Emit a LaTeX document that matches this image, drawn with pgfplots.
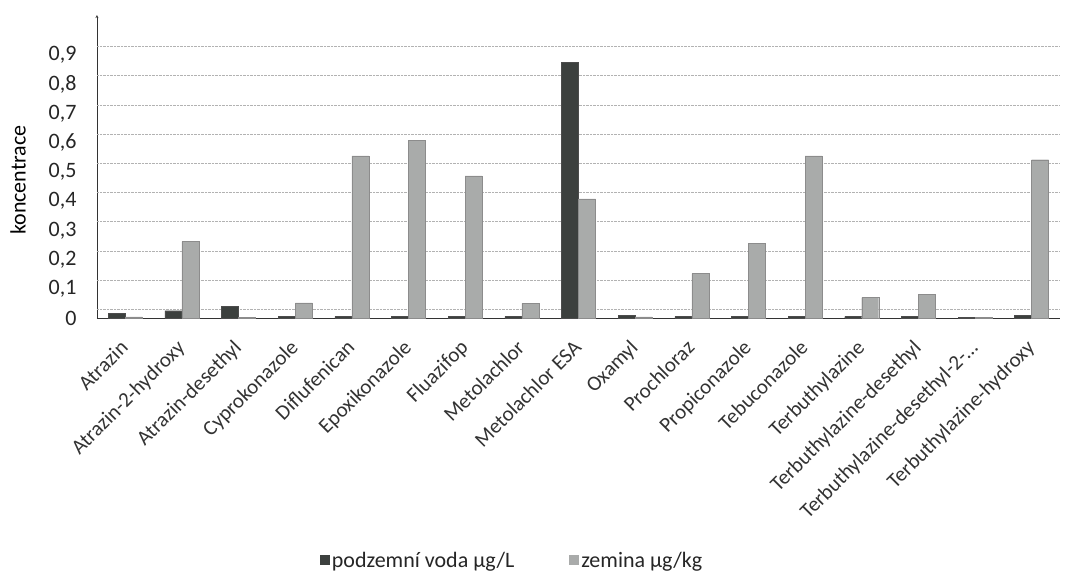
\documentclass[border=0pt]{standalone}
\usepackage{fontspec}
\setmainfont{Carlito}
\usepackage{pgfplots}
\pgfplotsset{compat=1.18}
\definecolor{voda}{HTML}{3C403E}
\definecolor{zemina}{HTML}{A9ABAA}
\begin{document}
\begin{tikzpicture}
\begin{axis}[
    scale only axis,
    width=963pt, height=303pt,
    ybar=0pt, bar width=17pt,
    xmin=-0.5, xmax=16.5,
    ymin=0, ymax=1.0377,
    axis lines=left,
    x axis line style={-, thick, black!80},
    y axis line style={-stealth, black!80},
    xtick={0,...,16},
    xticklabels={Atrazin,Atrazin-2-hydroxy,Atrazin-desethyl,Cyprokonazole,Diflufenican,Epoxikonazole,Fluazifop,Metolachlor,Metolachlor ESA,Oxamyl,Prochloraz,Propiconazole,Tebuconazole,Terbuthylazine,Terbuthylazine-desethyl,Terbuthylazine-desethyl-2-\dots,Terbuthylazine-hydroxy},
    xticklabel style={rotate=45, anchor=north east, font=\fontsize{21}{23}\selectfont, text=black!80, inner sep=1pt, xshift=-18pt, yshift=-9pt},
    ytick={0,0.1,...,0.9},
    yticklabel style={/pgf/number format/fixed, /pgf/number format/precision=1, /pgf/number format/use comma, /pgf/number format/assume math mode=true,
        font=\fontsize{22}{24}\selectfont, text=black!85, xshift=-17pt},
    major tick length=0pt,
    extra y ticks={0.03,0.13,0.23,0.33,0.43,0.53,0.63,0.73,0.83,0.93},
    extra y tick labels={},
    extra y tick style={grid=major, major grid style={densely dotted, black!30}},
    ylabel={koncentrace},
    ylabel style={font=\fontsize{22}{24}\selectfont, at={(axis description cs:-0.082,0.455)}, anchor=center},
    legend style={at={(0.431,-0.8)}, anchor=center, draw=none, legend columns=2,
        font=\fontsize{22}{24}\selectfont, text=black!85, /tikz/every even column/.append style={column sep=53pt}},
    legend image code/.code={\draw[#1, draw=none] (0pt,-5pt) rectangle (10pt,5pt);},
    clip=false,
]
\addplot[fill=voda, draw=black!70] coordinates {
    (0,0.015) (1,0.025) (2,0.04) (3,0.005) (4,0.005) (5,0.005) (6,0.005) (7,0.005)
    (8,0.875) (9,0.008) (10,0.005) (11,0.005) (12,0.005) (13,0.005) (14,0.005) (15,0.003) (16,0.01)
};
\addplot[fill=zemina, draw=black!45] coordinates {
    (0,0.004) (1,0.262) (2,0.003) (3,0.052) (4,0.555) (5,0.608) (6,0.487) (7,0.05)
    (8,0.408) (9,0.004) (10,0.152) (11,0.255) (12,0.555) (13,0.07) (14,0.08) (15,0.003) (16,0.542)
};
\legend{podzemní voda µg/L, zemina µg/kg}
\end{axis}
\path[use as bounding box] (-97pt,-258pt) rectangle (973pt,318pt);
\end{tikzpicture}
\end{document}
